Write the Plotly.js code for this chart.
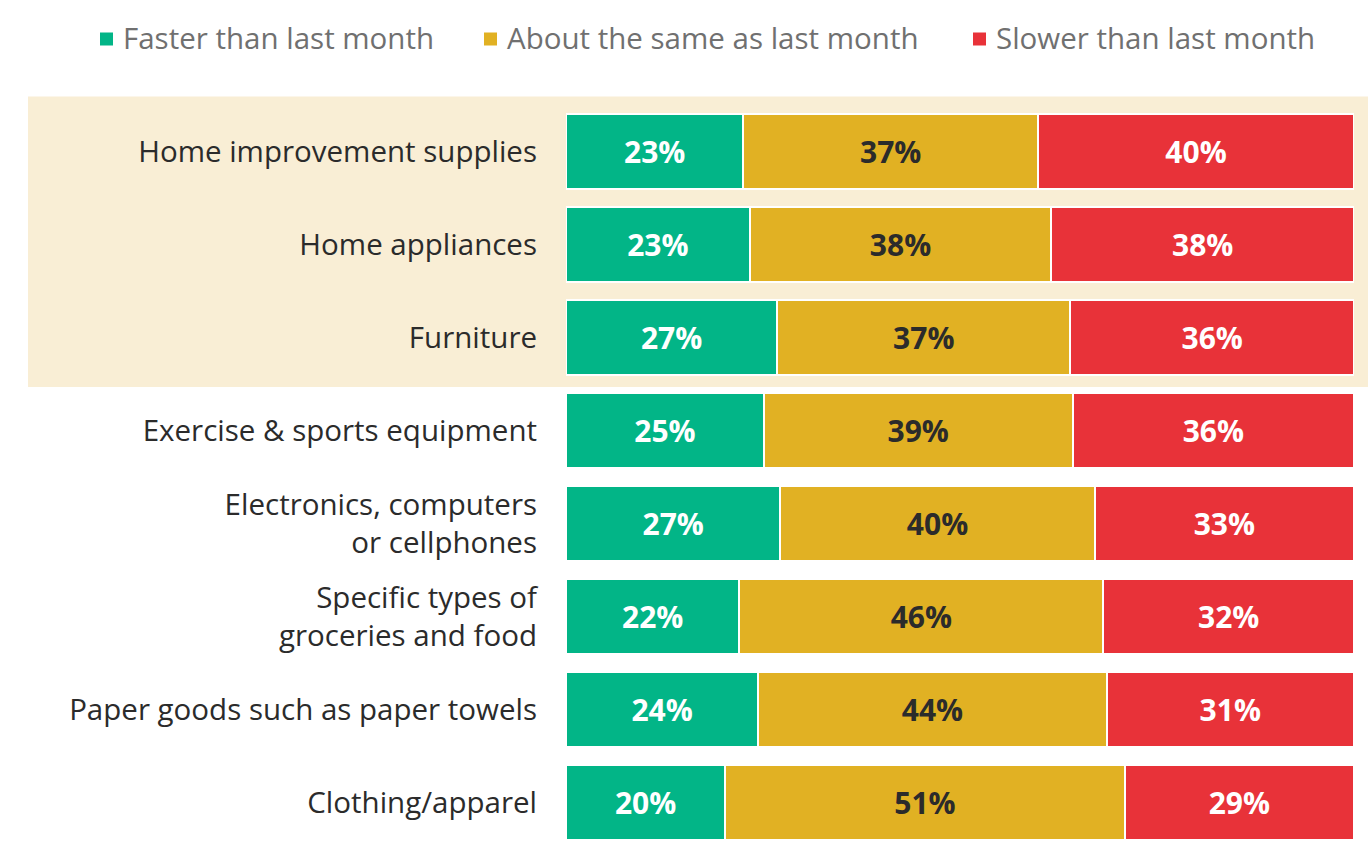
<!DOCTYPE html>
<html>
<head>
<meta charset="utf-8">
<script src="https://cdn.plot.ly/plotly-3.0.1.min.js"></script>
<style>
html,body{margin:0;padding:0;background:#fff;}
#chart{width:1368px;height:854px;}
</style>
</head>
<body>
<div id="chart"></div>
<script>
const categories = [
  "Home improvement supplies",
  "Home appliances",
  "Furniture",
  "Exercise & sports equipment",
  "Electronics, computers<br>or cellphones",
  "Specific types of<br>groceries and food",
  "Paper goods such as paper towels",
  "Clothing/apparel"
];
const seriesNames = ["Faster than last month", "About the same as last month", "Slower than last month"];
// values
const faster = [22.5, 23.3, 26.8, 25.1, 27.2, 22.0, 24.4, 20.2];
const same   = [37.4, 38.3, 37.2, 39.2, 39.9, 46.2, 44.2, 50.7];
const slower = [40.1, 38.4, 36.0, 35.7, 32.9, 31.8, 31.4, 29.1];
// printed labels
const fasterLabels = [23, 23, 27, 25, 27, 22, 24, 20];
const sameLabels   = [37, 38, 37, 39, 40, 46, 44, 51];
const slowerLabels = [40, 38, 36, 36, 33, 32, 31, 29];
const highlighted = ["Home improvement supplies", "Furniture"];

const colors = ["#02B587", "#E1B123", "#E83239"];
const textColors = ["#ffffff", "#2b2b2b", "#ffffff"];
const vals = [faster, same, slower];
const labs = [fasterLabels, sameLabels, slowerLabels];

// page geometry (pixels)
const W = 1368, H = 854;
const M = {l: 566, r: 14, t: 105, b: 5};
const plotW = W - M.l - M.r, plotH = H - M.t - M.b;
const px2x = p => (p - M.l) / plotW;
const px2y = p => (H - M.b - p) / plotH;
const rowPitch = plotH / categories.length;
const rowCenterPx = idx => M.t + (idx + 0.5) * rowPitch;
// legend key positions (left edge of square, in px)
const legendKeyX = [100, 484, 973];
const legendY = 37;

const traces = vals.map((v, i) => ({
  type: "bar",
  orientation: "h",
  name: seriesNames[i],
  y: categories,
  x: v,
  text: labs[i].map(n => n + "%"),
  textposition: "inside",
  insidetextanchor: "middle",
  textangle: 0,
  constraintext: "none",
  textfont: {family: "'Open Sans', Lato, sans-serif", size: 30, color: textColors[i], weight: 700},
  marker: {color: colors[i], line: {color: "#ffffff", width: 2}},
  hoverinfo: "skip",
  showlegend: false
}));

const shapes = [{
  type: "rect", layer: "below",
  xref: "paper", yref: "paper",
  x0: px2x(28), x1: px2x(1368),
  y0: px2y(rowCenterPx(categories.indexOf(highlighted[1])) + 49.5),
  y1: px2y(rowCenterPx(categories.indexOf(highlighted[0])) - 55),
  fillcolor: "#F9EED5", line: {width: 0}
}];
const annotations = [];
seriesNames.forEach((name, i) => {
  shapes.push({
    type: "rect", xref: "paper", yref: "paper",
    x0: px2x(legendKeyX[i]), x1: px2x(legendKeyX[i] + 13),
    y0: px2y(legendY + 2 - 6.5), y1: px2y(legendY + 2 + 6.5),
    fillcolor: colors[i], line: {width: 0}
  });
  annotations.push({
    xref: "paper", yref: "paper",
    x: px2x(legendKeyX[i] + 21), y: px2y(legendY),
    xanchor: "left", yanchor: "middle",
    text: name, showarrow: false,
    font: {family: "'Open Sans', Lato, sans-serif", size: 29.5, color: "#707070"}
  });
});

const layout = {
  width: W,
  height: H,
  margin: {l: M.l, r: M.r, t: M.t, b: M.b, autoexpand: false},
  barmode: "stack",
  bargap: 0.2,
  paper_bgcolor: "#ffffff",
  plot_bgcolor: "rgba(0,0,0,0)",
  font: {family: "'Open Sans', Lato, sans-serif", color: "#2b2b2b"},
  xaxis: {visible: false, range: [0, 100], fixedrange: true},
  yaxis: {
    type: "category",
    range: [categories.length - 0.5, -0.5],
    autorange: false,
    showgrid: false, zeroline: false, showline: false,
    ticks: "",
    ticklabelstandoff: 28,
    tickfont: {family: "'Open Sans', Lato, sans-serif", size: 29.5, color: "#2b2b2b"}
  },
  showlegend: false,
  shapes: shapes,
  annotations: annotations
};

Plotly.newPlot("chart", traces, layout, {displayModeBar: false, staticPlot: true});
</script>
</body>
</html>
